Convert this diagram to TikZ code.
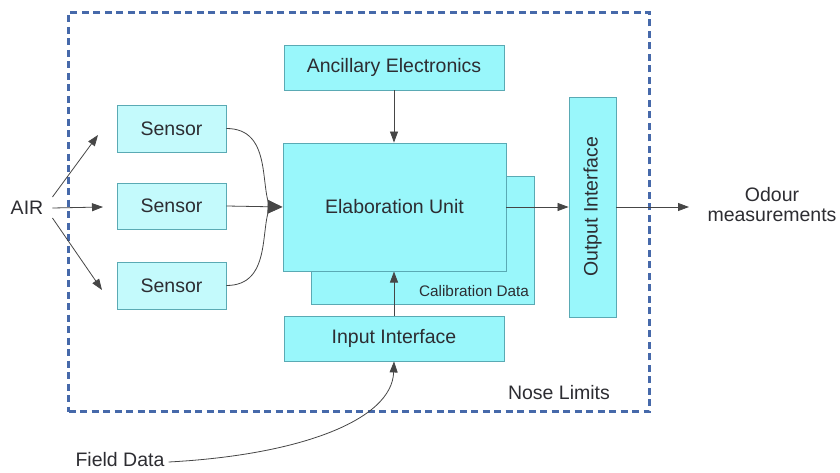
\documentclass[tikz,border=0pt]{standalone}
\usepackage{fontspec}
\setmainfont{Liberation Sans}
\usetikzlibrary{arrows.meta}
\definecolor{boxfill}{RGB}{153,247,251}
\definecolor{sensfill}{RGB}{196,250,252}
\definecolor{boxline}{RGB}{90,170,180}
\definecolor{txt}{RGB}{45,45,50}
\definecolor{limitblue}{RGB}{70,105,170}
\definecolor{conn}{RGB}{70,70,70}
\tikzset{
  blk/.style={draw=boxline, line width=0.9pt, fill=boxfill, inner sep=0pt, text=txt, font=\fontsize{19.5}{23}\selectfont},
  sens/.style={blk, fill=sensfill},
  lbl/.style={text=txt, inner sep=0pt, font=\fontsize{19.5}{23}\selectfont, align=center},
  line/.style={draw=conn, line width=0.8pt},
  conn/.style={line, -{Triangle[length=11pt,width=8pt]}},
  bigconn/.style={line, -{Triangle[length=15pt,width=14pt]}},
}
\begin{document}
\begin{tikzpicture}[x=1pt,y=-1pt]
\useasboundingbox (0,0) rectangle (840,473);
\fill[white] (0,0) rectangle (840,473);
% nose limits
\node[draw=limitblue, line width=2.6pt, dash pattern=on 7pt off 4.5pt, minimum width=581pt, minimum height=399pt, inner sep=0pt] (nose) at (359,212) {};
\node[lbl, anchor=center] (noselbl) at (559,393) {Nose Limits};
% boxes
\node[sens, minimum width=109pt, minimum height=47pt] (s1) at (171.5,128.5) {Sensor};
\node[sens, minimum width=109pt, minimum height=46pt] (s2) at (171.5,206) {Sensor};
\node[sens, minimum width=109pt, minimum height=47pt] (s3) at (171.5,285.5) {Sensor};
\node[blk, minimum width=220pt, minimum height=45pt] (anc) at (394,67.5) {Ancillary Electronics};
\node[blk, minimum width=223pt, minimum height=128pt] (cal) at (422.5,240) {};
\node[lbl, font=\fontsize{15.3}{18}\selectfont] (callbl) at (474,291) {Calibration Data};
\node[blk, minimum width=220pt, minimum height=45pt] (inp) at (394,338.5) {Input Interface};
\node[blk, minimum width=47pt, minimum height=220pt] (out) at (592.5,207) {};
\node[lbl, rotate=90] (outlbl) at (592.5,207) {Output Interface};
% input arrow drawn before elaboration so it sits above calibration box
\draw[conn] (inp.north) -- (394,271.5);
\node[blk, minimum width=223pt, minimum height=128pt] (elab) at (394.5,207) {Elaboration Unit};
% labels
\node[lbl] (air) at (27,208) {AIR};
\node[lbl] (odour) at (772,205) {Odour\\[-3pt]measurements};
\node[lbl] (field) at (120,460) {Field Data};
\coordinate (a1) at (98,135);
\coordinate (a2) at (103,207);
\coordinate (a3) at (102,290);
\coordinate (odin) at (689,207);
\coordinate (merge) at (270,207);
% connectors
\draw[conn] (air.east) ++(9,-11) -- (a1);
\draw[conn] (air.east) ++(9,0) -- (a2);
\draw[conn] (air.east) ++(9,10) -- (a3);
\draw[line] (s1.east) .. controls +(45,0) and +(-10,-22) .. (merge);
\draw[line] (s3.east) .. controls +(45,0) and +(-10,22) .. (merge);
\draw[bigconn] (s2.east) -- (elab.west);
\draw[conn] (anc.south) -- (elab.north -| anc.south);
\draw[conn] (elab.east) -- (out.west);
\draw[conn] (out.east) -- (odin);
\draw[conn] (field.east) ++(4,2) .. controls (300,455) and (392,420) .. (inp.south);
\end{tikzpicture}
\end{document}
